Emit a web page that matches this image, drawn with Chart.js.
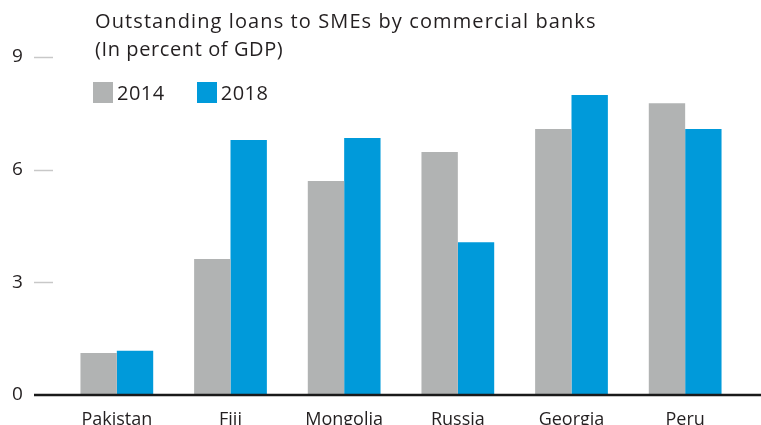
<!DOCTYPE html>
<html>
<head>
<meta charset="utf-8">
<script src="https://cdn.jsdelivr.net/npm/chart.js@4/dist/chart.umd.min.js"></script>
<style>
  html, body { margin: 0; padding: 0; background: #fff; }
  #wrap { position: relative; width: 761px; height: 425px; overflow: hidden; }
  #title {
    position: absolute; left: 95px; top: 7px;
    font-family: "Open Sans", sans-serif; font-size: 20px; line-height: 28px; color: #231f20;
    letter-spacing: 1.1px; white-space: nowrap;
  }
  #title .sub { letter-spacing: 0.6px; }
  #legend {
    position: absolute; left: 93px; top: 79px;
    font-family: "Open Sans", sans-serif; font-size: 20px; color: #231f20;
    display: flex; align-items: center; letter-spacing: 0.5px;
  }
  .sw { display: inline-block; width: 20px; height: 21px; margin-right: 4px; }
  .item { display: flex; align-items: center; margin-right: 32px; }
</style>
</head>
<body>
<div id="wrap">
  <canvas id="barChart" width="761" height="425"></canvas>
  <div id="title">Outstanding loans to SMEs by commercial banks<br><span class="sub">(In percent of GDP)</span></div>
  <div id="legend"></div>
</div>
<script>
const countries = ['Pakistan', 'Fiji', 'Mongolia', 'Russia', 'Georgia', 'Peru'];
const loans2014 = [1.12, 3.62, 5.70, 6.47, 7.08, 7.77];
const loans2018 = [1.18, 6.79, 6.84, 4.07, 7.99, 7.08];
const yTicks = [0, 3, 6, 9];

const grey = '#b1b3b3';
const blue = '#009ada';
const font = '"Open Sans", sans-serif';

// legend built by hand so it sits under the title
const legend = document.getElementById('legend');
[['2014', grey], ['2018', blue]].forEach(([label, color]) => {
    const item = document.createElement('span');
    item.className = 'item';
    item.innerHTML = '<span class="sw" style="background:' + color + '"></span>' + label;
    legend.appendChild(item);
});

// short tick dashes beside the labels and a full-width zero line
const axisMarks = {
    id: 'axisMarks',
    afterDatasetsDraw(chart) {
        const ctx = chart.ctx;
        const y = chart.scales.y;
        ctx.save();
        ctx.strokeStyle = '#c8c8c8';
        ctx.lineWidth = 1.5;
        yTicks.slice(1).forEach(v => {
            const py = Math.round(y.getPixelForValue(v)) + 0.5;
            ctx.beginPath();
            ctx.moveTo(34, py);
            ctx.lineTo(53, py);
            ctx.stroke();
        });
        ctx.strokeStyle = '#1a1a1a';
        ctx.lineWidth = 2.5;
        const p0 = y.getPixelForValue(0);
        ctx.beginPath();
        ctx.moveTo(34, p0);
        ctx.lineTo(chart.width, p0);
        ctx.stroke();
        ctx.restore();
    }
};

new Chart(document.getElementById('barChart'), {
    type: 'bar',
    data: {
        labels: countries,
        datasets: [
            { label: '2014', data: loans2014, backgroundColor: grey },
            { label: '2018', data: loans2018, backgroundColor: blue }
        ]
    },
    options: {
        responsive: false,
        animation: false,
        layout: { padding: { top: 57, right: 19, left: 12, bottom: 0 } },
        plugins: { legend: { display: false }, tooltip: { enabled: false } },
        datasets: { bar: { categoryPercentage: 0.64, barPercentage: 1 } },
        scales: {
            x: {
                grid: { display: false },
                border: { display: false },
                ticks: {
                    color: '#231f20',
                    padding: 6,
                    font: { family: font, size: 18 }
                },
                afterFit(scale) { scale.height = 30; }
            },
            y: {
                min: 0, max: 9,
                afterBuildTicks(scale) { scale.ticks = yTicks.map(v => ({ value: v })); },
                grid: { display: false },
                border: { display: false },
                ticks: {
                    color: '#231f20',
                    padding: 0,
                    crossAlign: 'far',
                    font: { family: font, size: 19 }
                },
                afterFit(scale) { scale.width = 48; }
            }
        }
    },
    plugins: [axisMarks]
});
</script>
</body>
</html>
